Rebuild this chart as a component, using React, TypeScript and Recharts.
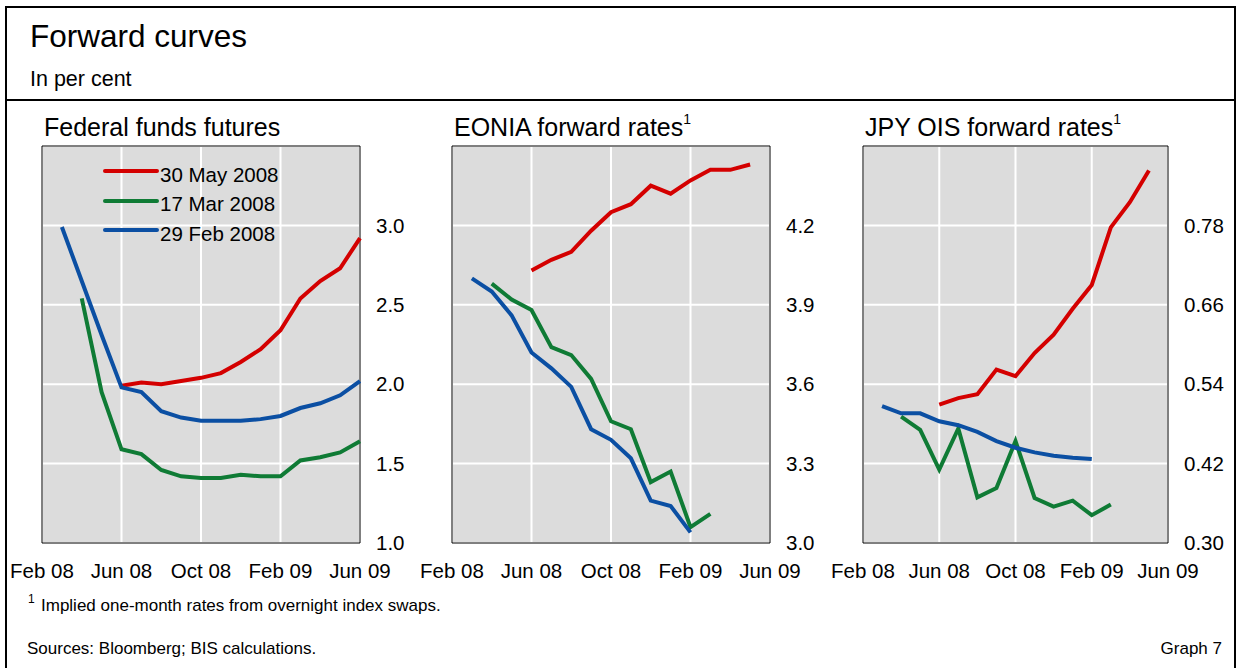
import { LineChart, Line, XAxis, YAxis, CartesianGrid, ReferenceArea, Legend } from "recharts";

const MONTHS = [
  "Feb 08", "Mar 08", "Apr 08", "May 08", "Jun 08", "Jul 08", "Aug 08", "Sep 08",
  "Oct 08", "Nov 08", "Dec 08", "Jan 09", "Feb 09", "Mar 09", "Apr 09", "May 09", "Jun 09",
];
const X_TICKS = ["Feb 08", "Jun 08", "Oct 08", "Feb 09", "Jun 09"];

// Federal funds futures
const FED_MAY30 = [null, null, null, null, 1.99, 2.01, 2.0, 2.02, 2.04, 2.07, 2.14, 2.22, 2.34, 2.54, 2.65, 2.73, 2.92];
const FED_MAR17 = [null, null, 2.54, 1.95, 1.59, 1.56, 1.46, 1.42, 1.41, 1.41, 1.43, 1.42, 1.42, 1.52, 1.54, 1.57, 1.64];
const FED_FEB29 = [null, 2.99, 2.65, 2.31, 1.98, 1.95, 1.83, 1.79, 1.77, 1.77, 1.77, 1.78, 1.8, 1.85, 1.88, 1.93, 2.02];
const FED_TICKS = [1.0, 1.5, 2.0, 2.5, 3.0];

// EONIA forward rates
const EONIA_MAY30 = [null, null, null, null, 4.03, 4.07, 4.1, 4.18, 4.25, 4.28, 4.35, 4.32, 4.37, 4.41, 4.41, 4.43, null];
const EONIA_MAR17 = [null, null, 3.98, 3.92, 3.88, 3.74, 3.71, 3.62, 3.46, 3.43, 3.23, 3.27, 3.06, 3.11, null, null, null];
const EONIA_FEB29 = [null, 4.0, 3.95, 3.86, 3.72, 3.66, 3.59, 3.43, 3.39, 3.32, 3.16, 3.14, 3.04, null, null, null, null];
const EONIA_TICKS = [3.0, 3.3, 3.6, 3.9, 4.2];

// JPY OIS forward rates
const JPY_MAY30 = [null, null, null, null, 0.509, 0.519, 0.525, 0.562, 0.552, 0.587, 0.615, 0.654, 0.69, 0.777, 0.815, 0.863, null];
const JPY_MAR17 = [null, null, 0.491, 0.471, 0.411, 0.473, 0.369, 0.383, 0.454, 0.368, 0.355, 0.364, 0.342, 0.358, null, null, null];
const JPY_FEB29 = [null, 0.507, 0.496, 0.496, 0.484, 0.478, 0.468, 0.454, 0.444, 0.437, 0.432, 0.429, 0.427, null, null, null, null];
const JPY_TICKS = [0.3, 0.42, 0.54, 0.66, 0.78];

const SERIES_NAMES = ["30 May 2008", "17 Mar 2008", "29 Feb 2008"];
const COLORS = ["#d40000", "#0f7b35", "#0b4fa3"];

const FONT = "'Liberation Sans', Arial, Helvetica, sans-serif";

function buildRows(series: (number | null)[][]) {
  return MONTHS.map((m, i) => {
    const row: Record<string, string | number | null> = { month: m };
    SERIES_NAMES.forEach((name, k) => {
      row[name] = series[k][i];
    });
    return row;
  });
}

// keep legend rows in series order, not alphabetical
const renderLegend = (props: any) => {
  const payload = [...(props.payload || [])].sort(
    (a: any, b: any) => SERIES_NAMES.indexOf(a.value) - SERIES_NAMES.indexOf(b.value)
  );
  return (
    <div style={{ fontFamily: FONT, fontSize: 20.5, color: "#000" }}>
      {payload.map((p: any) => (
        <div key={p.value} style={{ display: "flex", alignItems: "center", height: 29.5 }}>
          <svg width={57} height={10} style={{ marginTop: -7 }}>
            <line x1={2} x2={54} y1={5} y2={5} stroke={p.color} strokeWidth={4} strokeLinecap="round" />
          </svg>
          <span>{p.value}</span>
        </div>
      ))}
    </div>
  );
};

interface PanelProps {
  left: number;
  plotLeft: number;
  plotWidth: number;
  series: (number | null)[][];
  ticks: number[];
  domain: [number, number];
  digits: number;
  legend?: boolean;
}

function Panel({ left, plotLeft, plotWidth, series, ticks, domain, digits, legend }: PanelProps) {
  const width = 410;
  const height = 490;
  const data = buildRows(series);
  return (
    <div style={{ position: "absolute", left, top: 100 }}>
      <LineChart
        width={width}
        height={height}
        data={data}
        margin={{ top: 46, left: plotLeft, right: 0, bottom: 0 }}
      >
        <CartesianGrid fill="#dcdcdc" stroke="#ffffff" strokeWidth={2} />
        <XAxis
          dataKey="month"
          ticks={X_TICKS}
          interval={0}
          height={47}
          axisLine={false}
          tickLine={false}
          tickMargin={14}
          tick={{ fontSize: 20.5, fill: "#000", fontFamily: FONT }}
        />
        <YAxis
          orientation="right"
          width={width - plotLeft - plotWidth}
          domain={domain}
          ticks={ticks}
          allowDataOverflow
          axisLine={false}
          tickLine={false}
          tickMargin={10}
          tickFormatter={(v: number) => v.toFixed(digits)}
          tick={{ fontSize: 20.5, fill: "#000", fontFamily: FONT }}
        />
        <ReferenceArea
          x1={MONTHS[0]}
          x2={MONTHS[MONTHS.length - 1]}
          y1={domain[0]}
          y2={domain[1]}
          fill="none"
          stroke="#000"
          strokeWidth={1}
        />
        {SERIES_NAMES.map((name, k) => (
          <Line
            key={name}
            type="linear"
            dataKey={name}
            name={name}
            stroke={COLORS[k]}
            strokeWidth={4}
            dot={false}
            activeDot={false}
            isAnimationActive={false}
          />
        ))}
        {legend && (
          <Legend
            layout="vertical"
            align="center"
            verticalAlign="middle"
            content={renderLegend}
            wrapperStyle={{ top: 60, left: 103, width: 200 }}
          />
        )}
      </LineChart>
    </div>
  );
}

const textBase: React.CSSProperties = {
  position: "absolute",
  fontFamily: FONT,
  color: "#000",
  lineHeight: 1,
  whiteSpace: "nowrap",
};

export default function App() {
  return (
    <div style={{ position: "absolute", left: 0, top: 0, width: 1239, height: 668, overflow: "hidden", background: "#fff" }}>
      <div style={{ position: "absolute", left: 5, top: 6, width: 1231, height: 720, border: "2px solid #000", boxSizing: "border-box" }} />
      <div style={{ position: "absolute", left: 5, top: 99, width: 1231, height: 2, background: "#000" }} />

      <div style={{ ...textBase, left: 30, top: 21, fontSize: 31.5 }}>Forward curves</div>
      <div style={{ ...textBase, left: 30, top: 69, fontSize: 21.5 }}>In per cent</div>

      <div style={{ ...textBase, left: 44, top: 115, fontSize: 25 }}>Federal funds futures</div>
      <div style={{ ...textBase, left: 454, top: 115, fontSize: 25 }}>
        EONIA forward rates<sup style={{ fontSize: 14, verticalAlign: "top", position: "relative", top: -3 }}>1</sup>
      </div>
      <div style={{ ...textBase, left: 865, top: 115, fontSize: 25 }}>
        JPY OIS forward rates<sup style={{ fontSize: 14, verticalAlign: "top", position: "relative", top: -3 }}>1</sup>
      </div>

      <Panel left={0} plotLeft={42} plotWidth={318} series={[FED_MAY30, FED_MAR17, FED_FEB29]} ticks={FED_TICKS} domain={[1.0, 3.5]} digits={1} legend />
      <Panel left={410} plotLeft={42} plotWidth={318} series={[EONIA_MAY30, EONIA_MAR17, EONIA_FEB29]} ticks={EONIA_TICKS} domain={[3.0, 4.5]} digits={1} />
      <Panel left={820} plotLeft={43} plotWidth={305} series={[JPY_MAY30, JPY_MAR17, JPY_FEB29]} ticks={JPY_TICKS} domain={[0.3, 0.9]} digits={2} />

      <div style={{ ...textBase, left: 28, top: 593, fontSize: 12 }}>1</div>
      <div style={{ ...textBase, left: 41, top: 597, fontSize: 17 }}>Implied one-month rates from overnight index swaps.</div>
      <div style={{ ...textBase, left: 27, top: 640, fontSize: 17 }}>Sources: Bloomberg; BIS calculations.</div>
      <div style={{ ...textBase, right: 1239 - 1222, top: 640, fontSize: 17 }}>Graph 7</div>
    </div>
  );
}
